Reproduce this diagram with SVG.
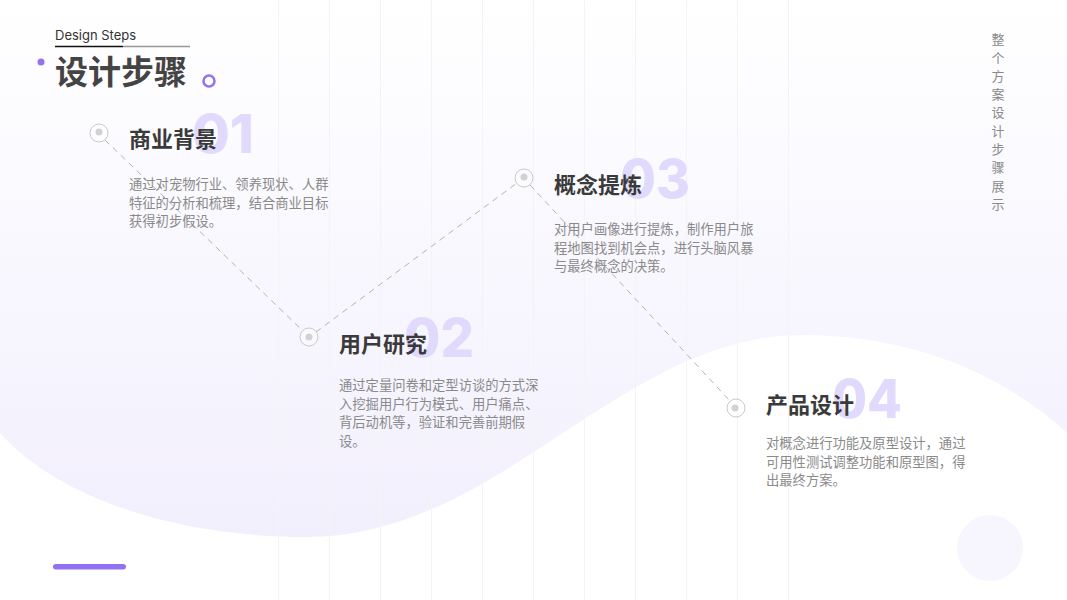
<svg xmlns="http://www.w3.org/2000/svg" width="1067" height="600" viewBox="0 0 1067 600">
<defs>
<linearGradient id="bg" x1="0" y1="0" x2="0" y2="540" gradientUnits="userSpaceOnUse">
<stop offset="0" stop-color="#ffffff"/>
<stop offset="1" stop-color="#f2effd"/>
</linearGradient>
<style>
.grid{stroke:#f4f4f6;stroke-width:1}
.conn{stroke:#b4b4b4;stroke-width:1;stroke-dasharray:6 5;fill:none}
.ring{fill:#ffffff;fill-opacity:0.4;stroke:#c9c9c9;stroke-width:1}
.dot{fill:#d2d2d2}
.num{font-family:Inter,"Open Sans",sans-serif;font-weight:800;font-size:54px;fill:#e1dafc}
.ttl{font-family:"Noto Sans CJK SC",sans-serif;font-weight:600;font-size:22px;fill:#3a3a3a}
.desc{font-family:"Noto Sans CJK SC",sans-serif;font-size:13.3px;fill:#8a8a8a}
.side{font-family:"Noto Sans CJK SC",sans-serif;font-size:13px;fill:#8a8a8a}
</style>
</defs>
<rect width="1067" height="600" fill="#ffffff"/>
<path d="M0,433 C60,500 180,537 306,537 C500,537 620,335 803,335 C920,335 1010,380 1067,433 L1067,0 L0,0 Z" fill="url(#bg)"/>
<g id="grid">
<line class="grid" x1="278.5" y1="0" x2="278.5" y2="600"/>
<line class="grid" x1="329.5" y1="0" x2="329.5" y2="600"/>
<line class="grid" x1="380.5" y1="0" x2="380.5" y2="600"/>
<line class="grid" x1="431.5" y1="0" x2="431.5" y2="600"/>
<line class="grid" x1="482.5" y1="0" x2="482.5" y2="600"/>
<line class="grid" x1="533.5" y1="0" x2="533.5" y2="600"/>
<line class="grid" x1="584.5" y1="0" x2="584.5" y2="600"/>
<line class="grid" x1="635.5" y1="0" x2="635.5" y2="600"/>
<line class="grid" x1="686.5" y1="0" x2="686.5" y2="600"/>
<line class="grid" x1="737.5" y1="0" x2="737.5" y2="600"/>
<line class="grid" x1="788.5" y1="0" x2="788.5" y2="600"/>
</g>
<circle cx="990" cy="548" r="33" fill="#f7f6fe"/>
<rect x="53" y="564" width="73" height="5.5" rx="2.75" fill="#9272f2"/>
<g id="header">
<text x="55" y="40" font-family="Inter,Roboto,sans-serif" font-size="13" fill="#333333">Design Steps</text>
<line x1="55" y1="46.5" x2="123" y2="46.5" stroke="#111111" stroke-width="1.5"/>
<line x1="123" y1="46.5" x2="190" y2="46.5" stroke="#999999" stroke-width="1.5"/>
<circle cx="41" cy="62" r="3.5" fill="#9272f2"/>
<text x="55" y="84" font-family="'Noto Sans CJK SC',sans-serif" font-weight="700" font-size="33" fill="#444444">设计步骤</text>
<circle cx="209" cy="81" r="5.5" fill="none" stroke="#9272f2" stroke-width="2.5"/>
</g>
<g id="side-label">
<text class="side" text-anchor="middle"><tspan x="998" y="44">整</tspan><tspan x="998" y="63">个</tspan><tspan x="998" y="81">方</tspan><tspan x="998" y="99">案</tspan><tspan x="998" y="117">设</tspan><tspan x="998" y="136">计</tspan><tspan x="998" y="154">步</tspan><tspan x="998" y="172">骤</tspan><tspan x="998" y="191">展</tspan><tspan x="998" y="209">示</tspan></text>
</g>
<g id="connectors">
<line class="conn" x1="105" y1="140" x2="303" y2="331"/>
<line class="conn" x1="316" y1="332" x2="517" y2="183"/>
<line class="conn" x1="530" y1="185" x2="730" y2="401"/>
</g>
<g id="step1">
<text class="num" x="192" y="153" textLength="62" lengthAdjust="spacingAndGlyphs">01</text>
<circle class="ring" cx="99" cy="133" r="9"/>
<circle class="dot" cx="99" cy="132" r="3.5"/>
<text class="ttl" x="129" y="147">商业背景</text>
<text class="desc"><tspan x="129" y="189">通过对宠物行业、领养现状、人群</tspan><tspan x="129" y="207.5">特征的分析和梳理，结合商业目标</tspan><tspan x="129" y="226">获得初步假设。</tspan></text>
</g>
<g id="step2">
<text class="num" x="404" y="357" textLength="70" lengthAdjust="spacingAndGlyphs">02</text>
<circle class="ring" cx="309" cy="337" r="9"/>
<circle class="dot" cx="309" cy="337" r="3.5"/>
<text class="ttl" x="339" y="352">用户研究</text>
<text class="desc"><tspan x="339" y="390">通过定量问卷和定型访谈的方式深</tspan><tspan x="339" y="408.5">入挖掘用户行为模式、用户痛点、</tspan><tspan x="339" y="427">背后动机等，验证和完善前期假</tspan><tspan x="339" y="445.5">设。</tspan></text>
</g>
<g id="step3">
<text class="num" x="620" y="198" textLength="70" lengthAdjust="spacingAndGlyphs">03</text>
<circle class="ring" cx="524" cy="178" r="9"/>
<circle class="dot" cx="524" cy="177" r="3.5"/>
<text class="ttl" x="554" y="193">概念提炼</text>
<text class="desc"><tspan x="554" y="234">对用户画像进行提炼，制作用户旅</tspan><tspan x="554" y="252.5">程地图找到机会点，进行头脑风暴</tspan><tspan x="554" y="271">与最终概念的决策。</tspan></text>
</g>
<g id="step4">
<text class="num" x="832" y="418" textLength="70" lengthAdjust="spacingAndGlyphs">04</text>
<circle class="ring" cx="736" cy="408" r="9"/>
<circle class="dot" cx="735" cy="408" r="3.5"/>
<text class="ttl" x="766" y="413">产品设计</text>
<text class="desc"><tspan x="766" y="448">对概念进行功能及原型设计，通过</tspan><tspan x="766" y="466.5">可用性测试调整功能和原型图，得</tspan><tspan x="766" y="485">出最终方案。</tspan></text>
</g>
</svg>
